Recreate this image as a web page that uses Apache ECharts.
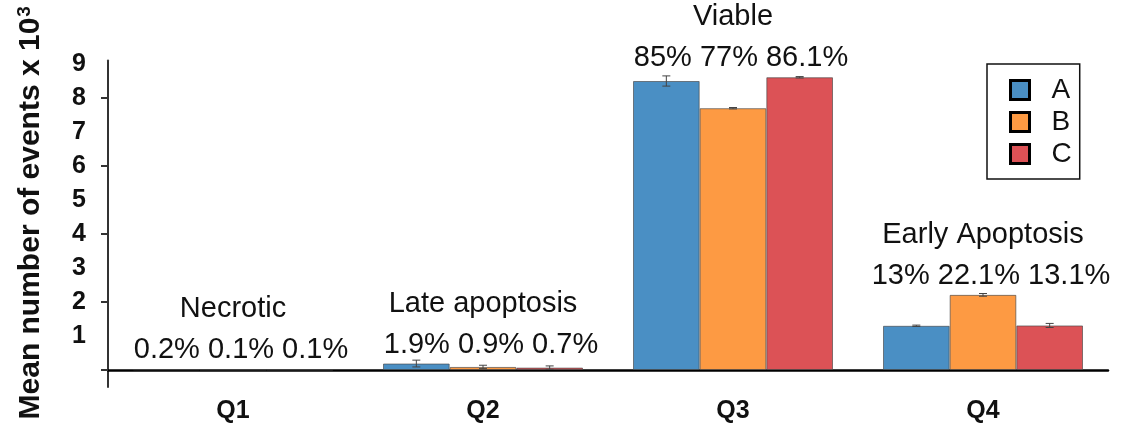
<!DOCTYPE html>
<html>
<head>
<meta charset="utf-8">
<script src="https://cdn.jsdelivr.net/npm/echarts@6/dist/echarts.min.js"></script>
<style>
  html, body { margin: 0; padding: 0; background: #fff; }
  #chart { width: 1123px; height: 427px; }
</style>
</head>
<body>
<div id="chart"></div>
<script>
// Quadrant categories and the population name written above each group
const categories = ['Q1', 'Q2', 'Q3', 'Q4'];
const groupTitles = ['Necrotic', 'Late apoptosis', 'Viable', 'Early Apoptosis'];

// Mean number of events (x 10^3) per sample, with standard errors
const meanA = [0.02, 0.19, 8.5, 1.3];
const meanB = [0.01, 0.09, 7.7, 2.21];
const meanC = [0.01, 0.07, 8.61, 1.31];
const errA = [0, 0.1, 0.15, 0.02];
const errB = [0, 0.05, 0.02, 0.04];
const errC = [0, 0.05, 0.02, 0.06];

// Share of all events in each quadrant
const pctA = ['0.2%', '1.9%', '85%', '13%'];
const pctB = ['0.1%', '0.9%', '77%', '22.1%'];
const pctC = ['0.1%', '0.7%', '86.1%', '13.1%'];

// Y axis labels and tick marks
const yLabelValues = [1, 2, 3, 4, 5, 6, 7, 8, 9];
const yTickValues = [0, 2, 4, 6, 8];

const seriesNames = ['A', 'B', 'C'];
const colors = ['#4a8fc4', '#fd9a43', '#dc5256'];
const means = [meanA, meanB, meanC];
const errs = [errA, errB, errC];
const pcts = [pctA, pctB, pctC];

const FONT = '"Liberation Sans", Arial, Helvetica, sans-serif';
const CAT_GAP = 0.2;

// One error-bar item per bar: [category index, mean, error, series index]
const errorData = [];
means.forEach((m, s) => m.forEach((v, i) => errorData.push([i, v, errs[s][i], s])));

// One annotation item per group: [category index, tallest bar in the group]
const annotData = categories.map((c, i) => [i, Math.max(meanA[i], meanB[i], meanC[i])]);

const chart = echarts.init(document.getElementById('chart'));

const barSeries = seriesNames.map((name, s) => ({
  name: name,
  type: 'bar',
  data: means[s],
  barGap: '0%',
  barCategoryGap: (CAT_GAP * 100) + '%',
  itemStyle: { color: colors[s], borderColor: 'rgba(70,70,70,0.65)', borderWidth: 1 },
  emphasis: { disabled: true },
  z: 2
}));

const errorSeries = {
  type: 'custom',
  name: 'error',
  data: errorData,
  z: 5,
  silent: true,
  renderItem: function (params, api) {
    const idx = api.value(0), m = api.value(1), e = api.value(2), s = api.value(3);
    if (!e) return null;
    const band = api.size([1, 0])[0];
    const barW = band * (1 - CAT_GAP) / 3;
    const cx = api.coord([idx, m])[0] + (s - 1) * barW;
    const yTop = api.coord([idx, m + e])[1];
    const yBot = api.coord([idx, m - e])[1];
    const cap = 4;
    const style = { stroke: '#444', lineWidth: 1 };
    return {
      type: 'group',
      children: [
        { type: 'line', shape: { x1: cx, y1: yTop, x2: cx, y2: yBot }, style: style },
        { type: 'line', shape: { x1: cx - cap, y1: yTop, x2: cx + cap, y2: yTop }, style: style },
        { type: 'line', shape: { x1: cx - cap, y1: yBot, x2: cx + cap, y2: yBot }, style: style }
      ]
    };
  }
};

const annotSeries = {
  type: 'custom',
  name: 'annotations',
  data: annotData,
  z: 6,
  silent: true,
  renderItem: function (params, api) {
    const idx = api.value(0), top = api.value(1);
    const p = api.coord([idx, top]);
    const pctText = pcts.map(arr => arr[idx]).join(' ');
    const textStyle = { fill: '#111', font: '29px ' + FONT, textAlign: 'center', textVerticalAlign: 'middle' };
    return {
      type: 'group',
      children: [
        { type: 'text', style: Object.assign({ x: p[0], y: p[1] - 60, text: groupTitles[idx] }, textStyle) },
        { type: 'text', style: Object.assign({ x: p[0] + 8, y: p[1] - 19, text: pctText }, textStyle) }
      ]
    };
  }
};

chart.setOption({
  animation: false,
  backgroundColor: '#fff',
  grid: { left: 108, right: 15, top: 60.6, bottom: 40, outerBoundsMode: 'none' },
  legend: {
    data: seriesNames,
    orient: 'vertical',
    left: 987,
    top: 64,
    padding: [12, 8, 11, 22],
    itemGap: 4,
    itemWidth: 19,
    itemHeight: 19,
    icon: 'rect',
    borderColor: '#111',
    borderWidth: 1.5,
    itemStyle: { borderColor: '#000', borderWidth: 3 },
    textStyle: { fontSize: 28, fontFamily: FONT, color: '#111', padding: [0, 0, 0, 17] },
    selectedMode: false
  },
  xAxis: {
    type: 'category',
    data: categories,
    axisLine: { onZero: true, lineStyle: { color: '#000', width: 2.5 } },
    axisTick: { show: false },
    axisLabel: { fontSize: 25, fontWeight: 'bold', fontFamily: FONT, color: '#111', margin: 12 },
    splitLine: { show: false }
  },
  yAxis: {
    type: 'value',
    min: -0.5,
    max: 9.1,
    name: 'Mean number of events x 10{sup|3}',
    nameLocation: 'middle',
    nameGap: 62,
    nameTextStyle: {
      fontSize: 30, fontWeight: 'bold', fontFamily: FONT, color: '#111', padding: [0, 0, 0, 22],
      rich: { sup: { fontSize: 19, fontWeight: 'bold', fontFamily: FONT, color: '#111', verticalAlign: 'bottom', padding: [0, 0, 12, 1] } }
    },
    axisLine: { show: true, lineStyle: { color: '#333', width: 2 } },
    axisTick: { show: true, customValues: yTickValues, length: 7, lineStyle: { color: '#333', width: 2 } },
    axisLabel: { customValues: yLabelValues, fontSize: 25, fontWeight: 'bold', fontFamily: FONT, color: '#111', margin: 22 },
    splitLine: { show: false }
  },
  series: barSeries.concat([errorSeries, annotSeries])
});
</script>
</body>
</html>
